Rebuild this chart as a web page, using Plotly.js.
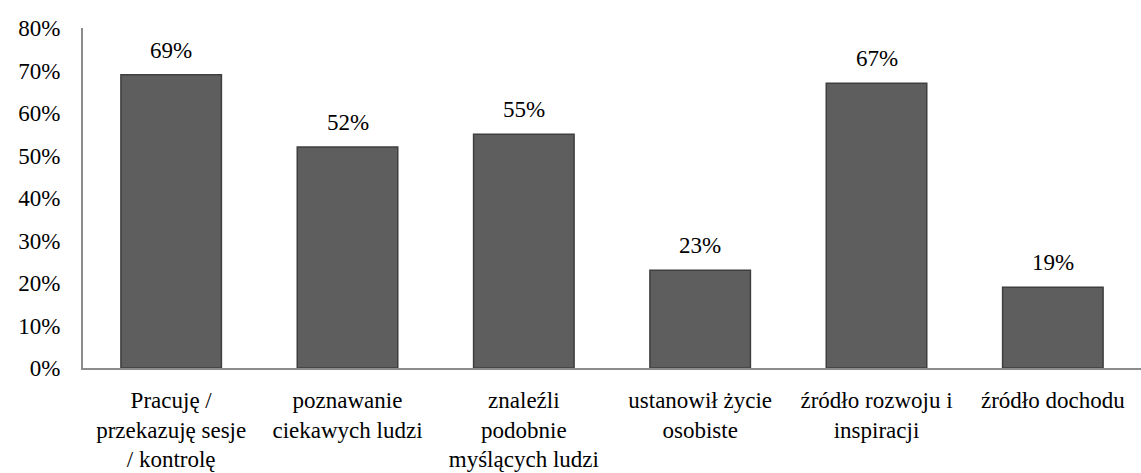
<!DOCTYPE html>
<html>
<head>
<meta charset="utf-8">
<script src="https://cdn.plot.ly/plotly-3.0.1.min.js"></script>
<style>html,body{margin:0;padding:0;background:#fff;}#chart{width:1141px;height:473px;}
svg text{font-family:"Liberation Serif","Times New Roman",serif !important;}</style>
</head>
<body>
<div id="chart"></div>
<script>
const categories = [
  "Pracuję /<br>przekazuję sesje<br>/ kontrolę",
  "poznawanie<br>ciekawych ludzi",
  "znaleźli<br>podobnie<br>myślących ludzi",
  "ustanowił życie<br>osobiste",
  "źródło rozwoju i<br>inspiracji",
  "źródło dochodu"
];
const values = [0.69, 0.52, 0.55, 0.23, 0.67, 0.19];
const valueLabels = ["69%", "52%", "55%", "23%", "67%", "19%"];
const yTickVals = [0, 0.1, 0.2, 0.3, 0.4, 0.5, 0.6, 0.7, 0.8];
const yTickText = ["0%", "10%", "20%", "30%", "40%", "50%", "60%", "70%", "80%"];

function mkFont() { return {family: "Liberation Serif", size: 23, color: "#000000"}; }

const annotations = categories.map((c, i) => ({
  x: c, y: values[i], xref: "x", yref: "y",
  text: valueLabels[i], showarrow: false,
  yanchor: "bottom", yshift: 10, font: mkFont()
}));

Plotly.newPlot("chart", [{
  type: "bar",
  x: categories,
  y: values,
  width: 0.57,
  marker: {color: "#5e5e5e", line: {color: "#3f3f3f", width: 1.5}},
  hoverinfo: "none"
}], {
  width: 1141, height: 473,
  margin: {l: 83, r: 0, t: 28, b: 105},
  paper_bgcolor: "#fff", plot_bgcolor: "#fff",
  showlegend: false,
  annotations: annotations,
  xaxis: {
    showline: true, linecolor: "#8c8c8c", linewidth: 2,
    ticks: "", showgrid: false, tickfont: mkFont(), tickangle: 0,
    ticklabelstandoff: 10,
    automargin: false
  },
  yaxis: {
    range: [0, 0.8], tickvals: yTickVals, ticktext: yTickText,
    showline: true, linecolor: "#8c8c8c", linewidth: 2,
    ticks: "", showgrid: false, zeroline: false,
    ticklabelstandoff: 16,
    tickfont: mkFont(), automargin: false
  }
}, {displayModeBar: false});
</script>
</body>
</html>
